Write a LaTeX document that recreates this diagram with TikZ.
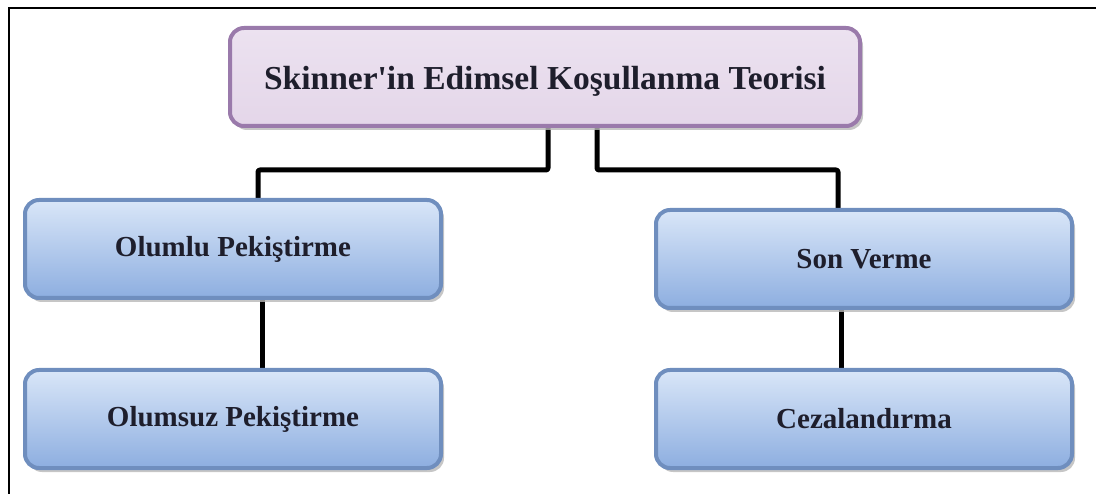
\documentclass[tikz,border=0pt]{standalone}
\usepackage{fontspec}
\setmainfont{Liberation Serif}[Ligatures=TeXOff]
\usetikzlibrary{shadows,backgrounds}

\definecolor{rootfill}{HTML}{E4D6E9}
\definecolor{rootfilltop}{HTML}{ECE2F0}
\definecolor{rootedge}{HTML}{9A7AAB}
\definecolor{leaftop}{HTML}{D9E6F8}
\definecolor{leafbottom}{HTML}{8DAEE0}
\definecolor{leafedge}{HTML}{6F8EBE}
\definecolor{inkdark}{HTML}{1E1E2C}

\tikzset{
  x=1pt, y=-1pt,
  boxbase/.style={rectangle, rounded corners=14pt, line width=4pt,
    text=inkdark, align=center,
    drop shadow={shadow xshift=3pt, shadow yshift=-4pt, fill=black!28, opacity=0.8}},
  rootbox/.style={boxbase, draw=rootedge, top color=rootfilltop, bottom color=rootfill,
    minimum width=630pt, minimum height=98pt, font=\bfseries\fontsize{33.5}{38}\selectfont},
  leafbox/.style={boxbase, draw=leafedge, top color=leaftop, bottom color=leafbottom,
    minimum width=416pt, minimum height=98pt, font=\bfseries\fontsize{29}{34}\selectfont},
  link/.style={line width=5pt, draw=black, rounded corners=2pt, line join=round},
  frameline/.style={line width=2.5pt, draw=black}
}

\begin{document}
\begin{tikzpicture}
  \useasboundingbox (0,0) rectangle (1096,494);

  % outer frame (top and left edges)
  \draw[frameline] (9,494) -- (9,8) -- (1096,8);

  % boxes
  \node[rootbox, text depth=4pt] (root) at (545,77) {\raisebox{-5pt}{Skinner'in Edimsel Koşullanma Teorisi}};
  \node[leafbox] (olumlu)  at (233,249) {Olumlu Pekiştirme};
  \node[leafbox] (olumsuz) at (233,419) {Olumsuz Pekiştirme};
  \node[leafbox] (son)     at (864,259) {Son Verme};
  \node[leafbox] (ceza)    at (864,419) {Cezalandırma};

  % connectors behind the boxes
  \begin{scope}[on background layer]
    \draw[link] ([xshift=3pt]root.south) -- ++(0,42) -| ([xshift=25pt]olumlu.north);
    \draw[link] ([xshift=52pt]root.south) -- ++(0,42) -| ([xshift=-26pt]son.north);
    \draw[link] ([xshift=29pt]olumlu.south) -- ([xshift=29pt]olumsuz.north);
    \draw[link] ([xshift=-23pt]son.south) -- ([xshift=-23pt]ceza.north);
  \end{scope}
\end{tikzpicture}
\end{document}
